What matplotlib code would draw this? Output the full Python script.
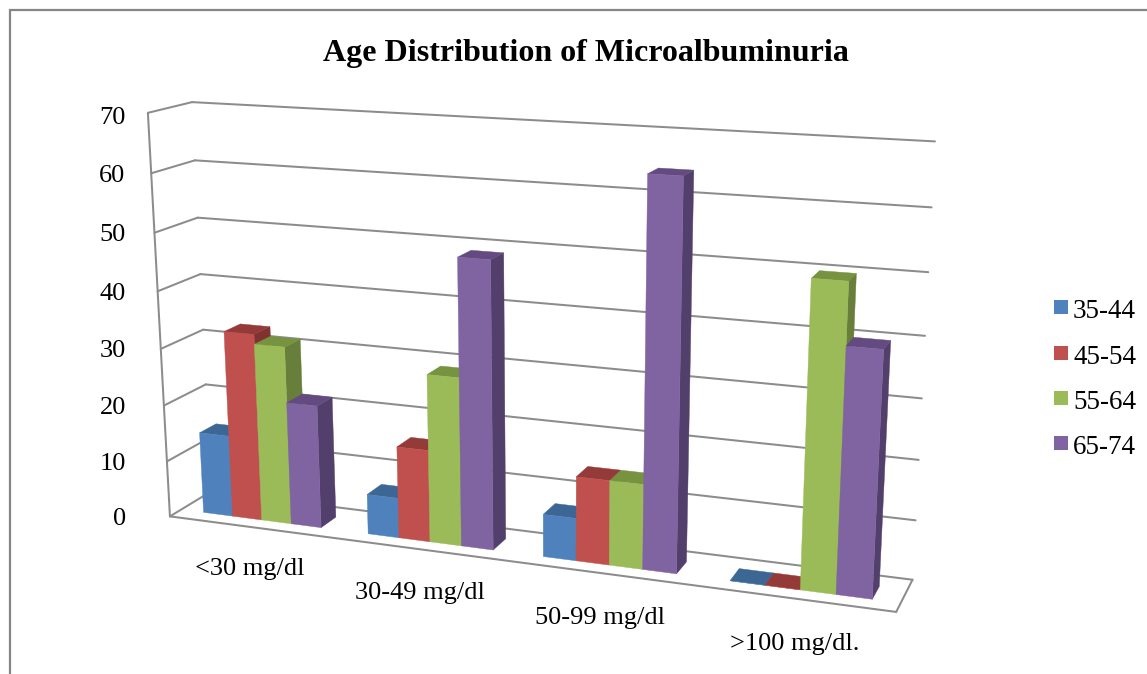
import numpy as np
import matplotlib
matplotlib.use("Agg")
import matplotlib.pyplot as plt
from matplotlib.patches import Polygon, Rectangle

# ---------- data ----------
categories = ["<30 mg/dl", "30-49 mg/dl", "50-99 mg/dl", ">100 mg/dl."]
series_names = ["35-44", "45-54", "55-64", "65-74"]
s_35_44 = [14.5, 7, 7.3, 0]
s_45_54 = [33, 16, 14.4, 0]
s_55_64 = [31.3, 29, 14.4, 50]
s_65_74 = [21.6, 49, 64.3, 40]
yticks = [0, 10, 20, 30, 40, 50, 60, 70]
title = "Age Distribution of Microalbuminuria"

# ---------- style ----------
front_col = ["#4F81BD", "#C0504D", "#9BBB59", "#8064A2"]
top_col = ["#3C6795", "#943A38", "#779340", "#634B82"]
side_col = ["#385D8A", "#7F322F", "#677F3A", "#533F6B"]
grid_col = "#8C8C8C"
W, H = 1147, 674

plt.rcParams["font.family"] = ["Liberation Serif", "DejaVu Serif"]
fig = plt.figure(figsize=(W / 100, H / 100), dpi=100)
ax = fig.add_axes([0, 0, 1, 1])
ax.set_xlim(0, W)
ax.set_ylim(H, 0)
ax.axis("off")

# ---------- 3-D box layout: world (category, value, depth) -> pixel ----------
front_left = [(168.5, 517), (167, 461), (163.5, 405), (161, 348), (158, 291), (155, 233), (152, 173), (148, 113.5)]
back_left = [(213, 491), (208.5, 440), (205.5, 384), (203, 330), (200, 274), (197, 217.5), (194, 160.5), (192, 102)]
back_right = [(912, 579), (916, 520), (918.5, 460), (922, 398), (925, 336), (928, 272), (932, 207), (935, 142)]
front_right_floor = (896, 613)
n = len(categories)

world, pix = [], []
for k, t in enumerate(yticks):
    world += [(0, t, 0), (0, t, 1), (n, t, 1)]
    pix += [front_left[k], back_left[k], back_right[k]]
world.append((n, 0, 0))
pix.append(front_right_floor)
A = []
for (a, b, c), (u, v) in zip(world, pix):
    A.append([a, b, c, 1, 0, 0, 0, 0, -u * a, -u * b, -u * c, -u])
    A.append([0, 0, 0, 0, a, b, c, 1, -v * a, -v * b, -v * c, -v])
P = np.linalg.svd(np.array(A, float))[2][-1].reshape(3, 4)


def proj(a, b, c):
    q = P @ np.array([a, b, c, 1.0])
    return q[0] / q[2], q[1] / q[2]


def line(p0, p1, **kw):
    ax.plot(*zip(proj(*p0), proj(*p1)), color=grid_col, lw=1.45, solid_capstyle="round", zorder=1, **kw)


# ---------- walls and gridlines ----------
top = yticks[-1]
for t in yticks:
    line((0, t, 0), (0, t, 1))
    line((0, t, 1), (n, t, 1))
line((0, 0, 0), (0, top, 0))
line((0, 0, 0), (n, 0, 0))
line((n, 0, 0), (n, 0, 1))

# ---------- bars ----------
values = np.array([s_35_44, s_45_54, s_55_64, s_65_74], float)
bar_w = 0.18
z0, z1 = 0.27, 0.67
zo = 3
for i in range(n):
    start = i + 0.5 - bar_w * 2
    for j in range(len(series_names)):
        x0, x1 = start + j * bar_w, start + (j + 1) * bar_w
        h = values[j, i]
        face = [(x0, 0, z0), (x1, 0, z0), (x1, h, z0), (x0, h, z0)]
        side = [(x1, 0, z0), (x1, 0, z1), (x1, h, z1), (x1, h, z0)]
        roof = [(x0, h, z0), (x1, h, z0), (x1, h, z1), (x0, h, z1)]
        for poly, col in ((side, side_col[j]), (roof, top_col[j]), (face, front_col[j])):
            ax.add_patch(Polygon([proj(*p) for p in poly], closed=True, facecolor=col, edgecolor=col, lw=0.3, zorder=zo))
            zo += 1

# ---------- text ----------
ax.text(586, 53.5, title, ha="center", va="center", fontsize=23, fontweight="bold", color="black")
for t in yticks:
    px, py = proj(0, t, 0)
    ax.text(125.5 + (px - 148) * 0.02, py + (5 if t == top else 2.5), str(t), ha="right", va="center", fontsize=19, color="black")
cat_pos = [(250, 569), (420, 593), (600, 618), (795, 644)]
for lab, (cx, cy) in zip(categories, cat_pos):
    ax.text(cx, cy, lab, ha="center", va="center", fontsize=19, color="black")
leg_y = [307, 353, 398, 443]
for name, col, ly in zip(series_names, front_col, leg_y):
    ax.add_patch(Rectangle((1054, ly - 7), 14, 14, facecolor=col, edgecolor="none", zorder=5))
    ax.text(1073, ly + 4.5, name, ha="left", va="center", fontsize=19.5, color="black")

# ---------- chart frame ----------
ax.plot([10, 10, W], [H, 9.5, 9.5], color="#868686", lw=1.6, solid_joinstyle="miter", clip_on=False)

fig.savefig("out.png", dpi=100)
